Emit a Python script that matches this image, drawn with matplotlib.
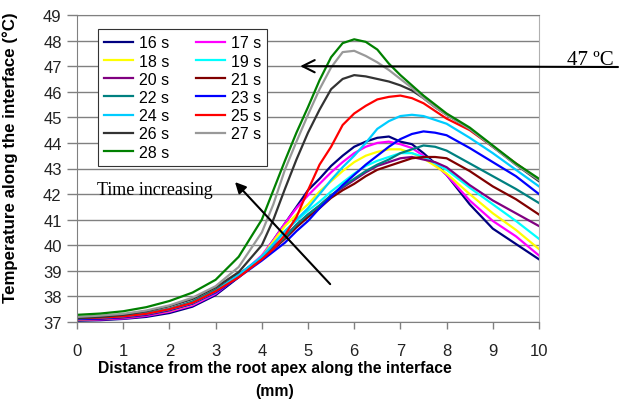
import matplotlib
matplotlib.use('Agg')
import matplotlib.pyplot as plt

plt.rcParams['font.family'] = ['Liberation Sans', 'DejaVu Sans']

# distance from the root apex (mm)
dist = [0, 0.5, 1, 1.5, 2, 2.5, 3, 3.5, 4, 4.25, 4.5, 4.75, 5, 5.25, 5.5,
        5.75, 6, 6.25, 6.5, 6.75, 7, 7.25, 7.5, 7.75, 8, 8.5, 9, 9.5, 10]

# temperature along the interface (deg C), one list per time step
t16 = [37.05, 37.07, 37.12, 37.20, 37.35, 37.60, 38.05, 38.75, 39.55, 40.20, 40.85, 41.50, 42.15, 42.60, 43.10,
       43.50, 43.85, 44.05, 44.20, 44.25, 44.05, 43.95, 43.60, 43.20, 42.75, 41.60, 40.65, 40.05, 39.45]
t17 = [37.08, 37.10, 37.14, 37.24, 37.40, 37.65, 38.10, 38.80, 39.60, 40.20, 40.85, 41.45, 41.95, 42.40, 42.85,
       43.25, 43.60, 43.85, 44.00, 44.05, 43.95, 43.80, 43.50, 43.15, 42.75, 41.75, 40.95, 40.35, 39.60]
t18 = [37.10, 37.12, 37.18, 37.28, 37.44, 37.70, 38.15, 38.80, 39.55, 40.15, 40.75, 41.20, 41.60, 42.10, 42.50,
       42.90, 43.25, 43.50, 43.65, 43.75, 43.75, 43.60, 43.40, 43.10, 42.80, 42.00, 41.25, 40.60, 39.85]
t19 = [37.13, 37.15, 37.20, 37.30, 37.48, 37.75, 38.20, 38.85, 39.55, 40.05, 40.55, 40.95, 41.35, 41.70, 42.10,
       42.45, 42.80, 43.10, 43.30, 43.45, 43.60, 43.60, 43.45, 43.20, 42.95, 42.25, 41.60, 40.95, 40.25]
t20 = [37.10, 37.12, 37.17, 37.27, 37.45, 37.72, 38.20, 38.85, 39.50, 39.95, 40.35, 40.80, 41.20, 41.55, 41.95,
       42.25, 42.55, 42.85, 43.10, 43.25, 43.40, 43.45, 43.35, 43.25, 43.05, 42.35, 41.75, 41.25, 40.75]
t21 = [37.15, 37.17, 37.22, 37.32, 37.50, 37.78, 38.25, 38.85, 39.50, 39.85, 40.25, 40.70, 41.10, 41.45, 41.85,
       42.15, 42.40, 42.70, 42.95, 43.10, 43.25, 43.40, 43.45, 43.45, 43.40, 42.90, 42.30, 41.80, 41.20]
t22 = [37.18, 37.20, 37.24, 37.34, 37.52, 37.80, 38.25, 38.85, 39.50, 39.90, 40.30, 40.80, 41.20, 41.55, 41.95,
       42.30, 42.60, 42.90, 43.15, 43.35, 43.60, 43.75, 43.90, 43.85, 43.70, 43.20, 42.70, 42.20, 41.65]
t23 = [37.12, 37.14, 37.20, 37.30, 37.48, 37.72, 38.15, 38.75, 39.40, 39.75, 40.10, 40.55, 40.95, 41.45, 41.90,
       42.35, 42.75, 43.15, 43.50, 43.85, 44.15, 44.35, 44.45, 44.40, 44.30, 43.80, 43.25, 42.70, 42.00]
t24 = [37.15, 37.17, 37.22, 37.32, 37.50, 37.75, 38.20, 38.85, 39.55, 40.05, 40.55, 41.00, 41.45, 42.00, 42.55,
       43.05, 43.50, 44.00, 44.55, 44.85, 45.05, 45.10, 45.05, 44.90, 44.75, 44.20, 43.60, 42.95, 42.30]
t25 = [37.15, 37.17, 37.22, 37.32, 37.50, 37.75, 38.20, 38.75, 39.45, 39.85, 40.40, 41.10, 42.15, 43.15, 43.85,
       44.70, 45.15, 45.45, 45.70, 45.80, 45.85, 45.75, 45.55, 45.25, 44.95, 44.50, 43.85, 43.20, 42.55]
t26 = [37.15, 37.20, 37.28, 37.42, 37.62, 37.90, 38.35, 38.95, 40.00, 41.00, 42.20, 43.35, 44.40, 45.30, 46.10,
       46.50, 46.65, 46.60, 46.50, 46.40, 46.25, 46.05, 45.75, 45.40, 45.10, 44.55, 43.85, 43.15, 42.50]
t27 = [37.20, 37.25, 37.32, 37.45, 37.65, 37.95, 38.40, 39.15, 40.50, 41.60, 42.95, 44.05, 45.10, 46.10, 46.95,
       47.55, 47.60, 47.40, 47.15, 46.85, 46.50, 46.15, 45.75, 45.40, 45.10, 44.55, 43.85, 43.15, 42.55]
t28 = [37.28, 37.33, 37.42, 37.58, 37.82, 38.15, 38.65, 39.55, 41.00, 42.15, 43.30, 44.40, 45.40, 46.45, 47.35,
       47.90, 48.05, 47.95, 47.65, 47.10, 46.65, 46.25, 45.85, 45.50, 45.15, 44.60, 43.90, 43.20, 42.60]

labels = ['16 s', '17 s', '18 s', '19 s', '20 s', '21 s', '22 s',
          '23 s', '24 s', '25 s', '26 s', '27 s', '28 s']
series = [t16, t17, t18, t19, t20, t21, t22, t23, t24, t25, t26, t27, t28]
colors = ['#000080', '#ff00ff', '#ffff00', '#00ffff', '#800080', '#800000', '#008080',
          '#0000ff', '#00ccff', '#ff0000', '#333333', '#999999', '#008000']

W, H = 631, 402
fig = plt.figure(figsize=(W / 100, H / 100), dpi=100)
ax = fig.add_axes([77 / W, 1 - 323 / H, (539 - 77) / W, (323 - 16) / H])

lines = []
for vals, lab, col in zip(series, labels, colors):
    ln, = ax.plot(dist, vals, color=col, lw=1.6, label=lab)
    lines.append(ln)

ax.set_xlim(0, 10)
ax.set_ylim(37, 49)
ax.set_xticks(range(0, 11))
ax.set_yticks(range(37, 50))
ax.yaxis.grid(True, color='#808080', lw=1)
ax.set_axisbelow(True)
ax.tick_params(axis='both', labelsize=12, colors='#222222')
ax.tick_params(axis='y', length=7, width=1, color='#808080', pad=4)
ax.tick_params(axis='x', length=5, width=1, color='#808080', pad=10)
ax.spines['left'].set_color('#808080')
ax.spines['bottom'].set_color('#808080')
ax.spines['right'].set_color('#b0b0b0')
ax.spines['top'].set_color('#808080')

ax.set_ylabel('Temperature along the interface (\u00b0C)', fontsize=12.2, fontweight='bold')
ax.yaxis.set_label_coords(-0.128, 0.54)
fig.text(275 / W, 1 - 373 / H, 'Distance from the root apex along the interface',
         ha='center', va='baseline', fontsize=11.3, fontweight='bold')
fig.text(275 / W, 1 - 396 / H, '(mm)', ha='center', va='baseline',
         fontsize=11.3, fontweight='bold')

# legend filled row by row: 16 17 / 18 19 / ...
order = [0, 2, 4, 6, 8, 10, 12, 1, 3, 5, 7, 9, 11]
leg = ax.legend([lines[i] for i in order], [labels[i] for i in order], ncol=2,
                loc='upper left', bbox_to_anchor=((98 - 77) / 462, (323 - 30) / 307),
                borderaxespad=0, fontsize=11.5, frameon=True, fancybox=False,
                edgecolor='#333333', framealpha=1, handlelength=1.8,
                handletextpad=0.35, columnspacing=1.7, labelspacing=0.2,
                borderpad=0.4)
leg.get_frame().set_linewidth(0.8)

# 47 C marker arrow
ax.annotate('', xy=(4.83, 47), xytext=(618, H - 68), textcoords='figure pixels',
            arrowprops=dict(arrowstyle='->', color='black', lw=1.5,
                            mutation_scale=22, shrinkA=0, shrinkB=0),
            annotation_clip=False)
fig.text(567 / W, 1 - 65 / H, '47 \u00baC', family='Liberation Serif',
         fontsize=15, va='baseline', ha='left')

# time increasing arrow
ax.annotate('', xy=(3.42, 42.47), xytext=(5.48, 38.48),
            arrowprops=dict(arrowstyle='-|>', color='black', lw=1.5,
                            mutation_scale=16, shrinkA=0, shrinkB=0))
ax.text(0.43, 42.0, 'Time increasing', family='Liberation Serif', fontsize=13,
        va='baseline', ha='left')

fig.savefig('out.png', dpi=100)
